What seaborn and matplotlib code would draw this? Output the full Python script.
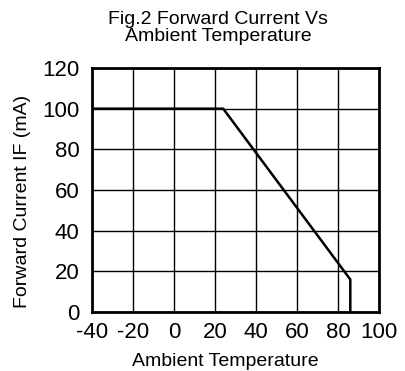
import matplotlib
matplotlib.use("Agg")
import matplotlib.pyplot as plt
import seaborn as sns
import pandas as pd

# Derating curve: forward current vs ambient temperature
temperature = [-40, 24, 86, 86]
forward_current = [100, 100, 16, 0]

x_ticks = [-40, -20, 0, 20, 40, 60, 80, 100]
y_ticks = [0, 20, 40, 60, 80, 100, 120]

sns.set_theme(style="white")
plt.rcParams["font.family"] = ["Liberation Sans", "DejaVu Sans"]

df = pd.DataFrame({"temp": temperature, "current": forward_current})

fig = plt.figure(figsize=(4.06, 3.71), dpi=100)
ax = fig.add_axes([92 / 406, 1 - 312 / 371, 287 / 406, 244 / 371])

sns.lineplot(data=df, x="temp", y="current", sort=False, color="black",
             linewidth=1.8, ax=ax, estimator=None)

ax.set_xlim(-40, 100)
ax.set_ylim(0, 120)
ax.set_xticks(x_ticks)
ax.set_yticks(y_ticks)
ax.set_xticklabels([str(v) for v in x_ticks], fontsize=16)
ax.set_yticklabels([str(v) for v in y_ticks], fontsize=16)
ax.tick_params(axis="both", length=0, colors="black")
ax.tick_params(axis="x", pad=7.5)
ax.tick_params(axis="y", pad=9)

ax.grid(True, color="black", linewidth=1.0)
ax.set_axisbelow(True)
for s in ax.spines.values():
    s.set_visible(True)
    s.set_color("black")
    s.set_linewidth(2.0)

ax.set_xlabel("")
ax.set_ylabel("")

fig.text(218 / 406, 1 - 28 / 371, "Fig.2 Forward Current Vs\nAmbient Temperature",
         ha="center", va="center", fontsize=14, color="black", linespacing=1.0)
fig.text(225 / 406, 1 - 362 / 371, "Ambient Temperature",
         ha="center", va="center", fontsize=14, color="black")
fig.text(23 / 406, 1 - 201 / 371, "Forward Current IF (mA)",
         ha="center", va="center", rotation=90, fontsize=14, color="black")

fig.savefig("out.png", dpi=100)
